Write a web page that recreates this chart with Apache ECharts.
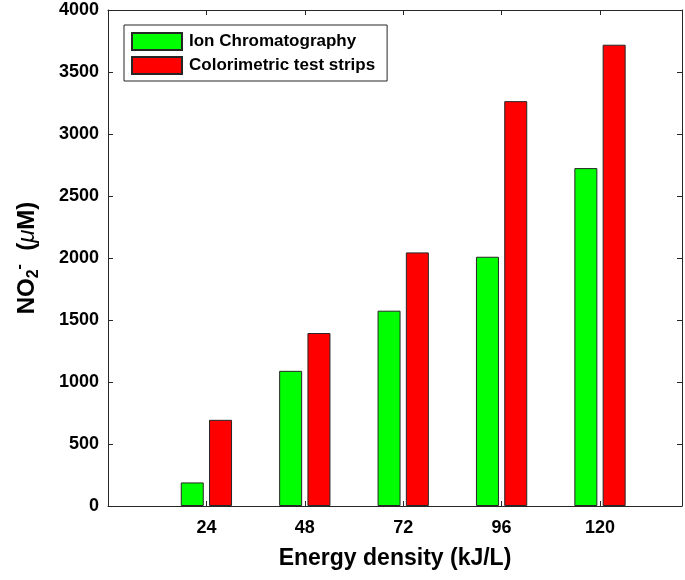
<!DOCTYPE html>
<html>
<head>
<meta charset="utf-8">
<script src="https://cdn.jsdelivr.net/npm/echarts@6/dist/echarts.min.js"></script>
<style>
html,body{margin:0;padding:0;background:#fff;}
#chart{width:685px;height:580px;}
</style>
</head>
<body>
<div id="chart"></div>
<script>
var energyDensity = [24, 48, 72, 96, 120];
var ionChromatography = [190, 1090, 1575, 2010, 2725];
var colorimetricStrips = [695, 1395, 2045, 3265, 3720];
var seriesNames = ['Ion Chromatography', 'Colorimetric test strips'];
var yTicks = [0, 500, 1000, 1500, 2000, 2500, 3000, 3500, 4000];

var FONT = '"Liberation Sans", Arial, Helvetica, sans-serif';
var AXC = '#262626';

function pairs(xs, ys) { return xs.map(function (x, i) { return [x, ys[i]]; }); }

var chart = echarts.init(document.getElementById('chart'), null, {renderer: 'canvas'});
var axisCommon = {
  axisLine: {show: true, onZero: false, lineStyle: {color: AXC, width: 1}},
  axisTick: {show: true, inside: true, length: 5, lineStyle: {color: AXC, width: 1}},
  splitLine: {show: false}
};
var option = {
  animation: false,
  backgroundColor: '#ffffff',
  grid: {left: 108, top: 10, right: 2, bottom: 74, containLabel: false},
  legend: {
    data: seriesNames.map(function (n) { return {name: n, icon: 'rect'}; }),
    orient: 'vertical',
    left: 124, top: 25,
    padding: [7, 12, 6, 7],
    itemWidth: 50, itemHeight: 17, itemGap: 5,
    borderColor: AXC, borderWidth: 1, backgroundColor: '#fff',
    borderRadius: 0,
    selectedMode: false,
    textStyle: {fontFamily: FONT, fontWeight: 'bold', fontSize: 17, color: '#000', padding: [0, 0, 0, 2]}
  },
  xAxis: [
    Object.assign({}, axisCommon, {
      type: 'value', position: 'bottom', min: 0, max: 140, interval: 24,
      axisLabel: {
        margin: 13, fontFamily: FONT, fontWeight: 'bold', fontSize: 18, color: '#000',
        formatter: function (v) { return energyDensity.indexOf(v) >= 0 ? String(v) : ''; }
      },
      name: 'Energy density (kJ/L)', nameLocation: 'middle', nameGap: 41,
      nameTextStyle: {fontFamily: FONT, fontWeight: 'bold', fontSize: 23, color: '#000'}
    }),
    Object.assign({}, axisCommon, {
      type: 'value', position: 'top', min: 0, max: 140, interval: 24,
      axisLabel: {show: false}
    })
  ],
  yAxis: [
    Object.assign({}, axisCommon, {
      type: 'value', position: 'left', min: yTicks[0], max: yTicks[yTicks.length - 1], interval: 500,
      axisLabel: {
        margin: 9, fontFamily: FONT, fontWeight: 'bold', fontSize: 18, color: '#000',
        formatter: function (v) { return String(v); }
      },
      name: '{b|NO}{sub|2}{sup|-}{b|  (}{mu|μ}{b|M)}',
      nameLocation: 'middle', nameGap: 66,
      nameTextStyle: {
        color: '#000',
        rich: {
          b: {fontFamily: FONT, fontWeight: 'bold', fontSize: 24, lineHeight: 30, color: '#000'},
          sub: {fontFamily: FONT, fontWeight: 'bold', fontSize: 16, lineHeight: 12, verticalAlign: 'bottom', color: '#000'},
          sup: {fontFamily: FONT, fontWeight: 'bold', fontSize: 16, lineHeight: 22, verticalAlign: 'top', color: '#000'},
          mu: {fontFamily: FONT, fontStyle: 'italic', fontWeight: 'normal', fontSize: 24, lineHeight: 30, color: '#000'}
        }
      }
    }),
    Object.assign({}, axisCommon, {
      type: 'value', position: 'right', min: yTicks[0], max: yTicks[yTicks.length - 1], interval: 500,
      axisLabel: {show: false}
    })
  ],
  series: [
    {
      name: seriesNames[0], type: 'bar', xAxisIndex: 0, yAxisIndex: 0,
      barWidth: 23, barGap: '23%',
      itemStyle: {color: '#00ff00', borderColor: AXC, borderWidth: 1},
      data: pairs(energyDensity, ionChromatography)
    },
    {
      name: seriesNames[1], type: 'bar', xAxisIndex: 0, yAxisIndex: 0,
      barWidth: 23, barGap: '23%',
      itemStyle: {color: '#ff0000', borderColor: AXC, borderWidth: 1},
      data: pairs(energyDensity, colorimetricStrips)
    }
  ]
};
chart.setOption(option);
</script>
</body>
</html>
